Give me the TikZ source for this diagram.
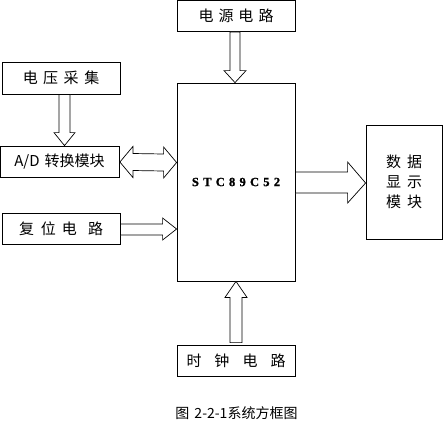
\documentclass[tikz,border=0pt]{standalone}
\usepackage{fontspec}
\newfontfamily\cjk{Noto Sans CJK SC}
\newfontfamily\stcfont[LetterSpace=34,BoldFeatures={FakeBold=1.2}]{Liberation Serif}
\usetikzlibrary{calc}
\newcommand\gp[1]{\hspace{#1pt}}
\begin{document}
\begin{tikzpicture}[x=1pt,y=-1pt,
  box/.style={draw,line width=0.8pt,inner sep=0pt,font=\cjk\fontsize{15}{17}\selectfont,align=center},
  barrow/.style={draw,line width=0.7pt,fill=white,line join=miter}]
\useasboundingbox (0,0) rectangle (443,429);
% blocks
\node[box,minimum width=118,minimum height=31] (pwr) at (236,16) {电\gp{5}源\gp{5}电\gp{5}路};
\node[box,minimum width=118,minimum height=198] (mcu) at (236,182) {\stcfont\bfseries\fontsize{12.5}{14}\selectfont STC89C52};
\node[box,minimum width=118,minimum height=32] (volt) at (61,78) {电\gp{5.5}压\gp{5.5}采\gp{5.5}集};
\node[box,minimum width=119,minimum height=31] (ad) at (59.5,161.5) {A/D\gp{5}转换模块};
\node[box,minimum width=118,minimum height=31] (rst) at (61,228.5) {复\gp{7}位\gp{6}电\gp{11}路};
\node[box,minimum width=118,minimum height=31] (clk) at (236,360.5) {时\gp{13}钟\gp{13}电\gp{13}路};
\node[box,minimum width=76,minimum height=114] (disp) at (404,182) {数\gp{6}据\\[3pt]显\gp{6}示\\[3pt]模\gp{6}块};
% power -> mcu
\draw[barrow] ($(pwr.south)+(-6,0)$) -- ($(mcu.north)+(-6,-12)$) -- ($(mcu.north)+(-12,-12)$)
  -- ($(mcu.north)+(-1,0)$) -- ($(mcu.north)+(10,-12)$) -- ($(mcu.north)+(4,-12)$) -- ($(pwr.south)+(4,0)$) -- cycle;
% volt -> ad
\draw[barrow] ($(volt.south)+(-2,0)$) -- ($(ad.north)+(-0.5,-13)$) -- ($(ad.north)+(-5.5,-13)$)
  -- ($(ad.north)+(5,0)$) -- ($(ad.north)+(15.5,-13)$) -- ($(ad.north)+(10.5,-13)$) -- ($(volt.south)+(9,0)$) -- cycle;
% ad <-> mcu
\draw[barrow] ($(ad.east)+(0.5,0.5)$) -- ($(ad.east)+(13.5,-15)$) -- ($(ad.east)+(13.5,-8)$)
  -- ($(mcu.west)+(-13,-28)$) -- ($(mcu.west)+(-13,-35)$) -- ($(mcu.west)+(0,-19.5)$)
  -- ($(mcu.west)+(-13,-4)$) -- ($(mcu.west)+(-13,-11)$) -- ($(ad.east)+(13.5,9)$) -- ($(ad.east)+(13.5,16)$) -- cycle;
% mcu -> disp
\draw[barrow] ($(mcu.east)+(0,-10)$) -- ($(disp.west)+(-18,-10)$) -- ($(disp.west)+(-18,-20)$)
  -- ($(disp.west)+(0,1)$) -- ($(disp.west)+(-18,21)$) -- ($(disp.west)+(-18,11)$) -- ($(mcu.east)+(0,11)$) -- cycle;
% rst -> mcu
\draw[barrow] ($(rst.east)+(0,-4.5)$) -- ($(mcu.west)+(-14,42)$) -- ($(mcu.west)+(-14,36)$)
  -- ($(mcu.west)+(0,47)$) -- ($(mcu.west)+(-14,58)$) -- ($(mcu.west)+(-14,53)$) -- ($(rst.east)+(0,6.5)$) -- cycle;
% clk -> mcu
\draw[barrow] ($(clk.north)+(-6,-2)$) -- ($(mcu.south)+(-6,16)$) -- ($(mcu.south)+(-11,16)$)
  -- ($(mcu.south)+(0,0)$) -- ($(mcu.south)+(11,16)$) -- ($(mcu.south)+(6,16)$) -- ($(clk.north)+(6,-2)$) -- cycle;
% caption
\node[font=\cjk\fontsize{14}{16}\selectfont] (cap) at (236.5,413) {图\gp{5}2-2-1系统方框图};
\end{tikzpicture}
\end{document}
